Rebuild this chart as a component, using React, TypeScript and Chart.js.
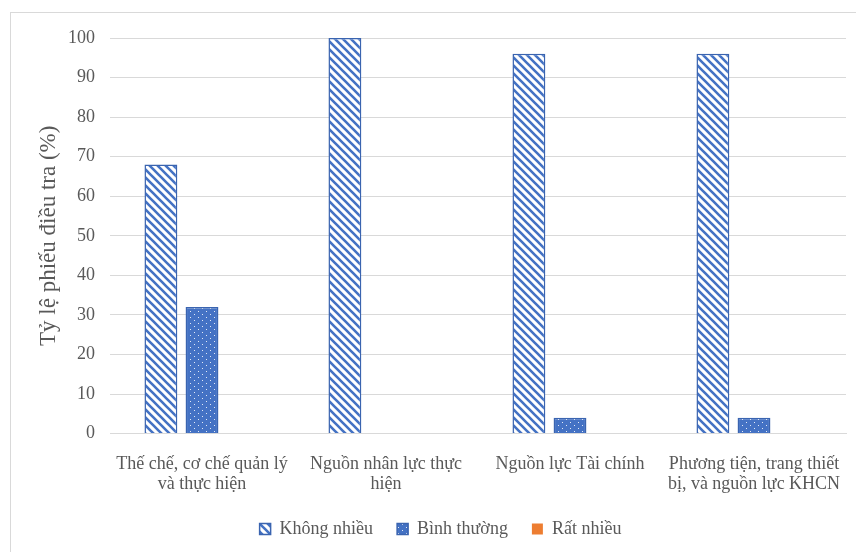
import React, { useEffect, useRef } from "react";
import { Chart, registerables } from "chart.js";

Chart.register(...registerables);

const categories: string[][] = [
  ["Thế chế, cơ chế quản lý", "và thực hiện"],
  ["Nguồn nhân lực thực", "hiện"],
  ["Nguồn lực Tài chính"],
  ["Phương tiện, trang thiết", "bị, và nguồn lực KHCN"],
];
const seriesNames = ["Không nhiều", "Bình thường", "Rất nhiều"];
const khongNhieu = [68, 100, 96, 96];
const binhThuong = [32, 0, 4, 4];
const ratNhieu = [0, 0, 0, 0];
const yTicks = [0, 10, 20, 30, 40, 50, 60, 70, 80, 90, 100];
const yTitle = "Tỷ lệ phiếu điều tra (%)";

const FONT = "'Liberation Serif', 'Times New Roman', serif";
const BLUE = "#4472C4";
const BLUE_DARK = "#3A64B0";

function stripePattern(): CanvasPattern | string {
  const c = document.createElement("canvas");
  c.width = 8;
  c.height = 8;
  const g = c.getContext("2d");
  if (!g) return BLUE;
  g.fillStyle = "#ffffff";
  g.fillRect(0, 0, 8, 8);
  g.strokeStyle = BLUE;
  g.lineWidth = 2.6;
  g.beginPath();
  g.moveTo(-2, -2);
  g.lineTo(10, 10);
  g.moveTo(-6, 2);
  g.lineTo(2, 10);
  g.moveTo(6, -2);
  g.lineTo(14, 6);
  g.stroke();
  return g.createPattern(c, "repeat") || BLUE;
}

function dotPattern(): CanvasPattern | string {
  const c = document.createElement("canvas");
  c.width = 8;
  c.height = 6;
  const g = c.getContext("2d");
  if (!g) return BLUE;
  g.fillStyle = BLUE;
  g.fillRect(0, 0, 8, 6);
  g.fillStyle = "rgba(255,255,255,0.85)";
  g.fillRect(2, 2, 1, 1);
  g.fillRect(6, 5, 1, 1);
  return g.createPattern(c, "repeat") || BLUE;
}

export default function App() {
  const ref = useRef<HTMLCanvasElement | null>(null);

  useEffect(() => {
    if (!ref.current) return;
    const zeroBorder = (w: number) => (ctx: any) =>
      ctx.raw === 0 ? 0 : w;
    const chart = new Chart(ref.current, {
      type: "bar",
      data: {
        labels: categories,
        datasets: [
          {
            label: seriesNames[0],
            data: khongNhieu,
            backgroundColor: stripePattern() as any,
            borderColor: BLUE_DARK,
            borderWidth: zeroBorder(1.5) as any,
          },
          {
            label: seriesNames[1],
            data: binhThuong,
            backgroundColor: dotPattern() as any,
            borderColor: BLUE_DARK,
            borderWidth: zeroBorder(1.5) as any,
          },
          {
            label: seriesNames[2],
            data: ratNhieu,
            backgroundColor: "#ED7D31",
            borderColor: "#ED7D31",
            borderWidth: zeroBorder(1) as any,
          },
        ],
      },
      options: {
        animation: false,
        responsive: false,
        maintainAspectRatio: false,
        datasets: {
          bar: {
            categoryPercentage: 0.67,
            barPercentage: 0.8,
          },
        },
        layout: { padding: { left: 35, right: 10, top: 38, bottom: 4 } },
        plugins: {
          tooltip: { enabled: false },
          legend: {
            position: "bottom",
            labels: {
              font: { family: FONT, size: 18 },
              color: "#595959",
              boxWidth: 11,
              boxHeight: 11,
              padding: 24,
            },
          },
        },
        scales: {
          x: {
            afterFit: (s: any) => {
              s.paddingLeft = 0;
              s.paddingRight = 0;
              s.height -= 19;
            },
            grid: { display: false, drawTicks: false },
            border: { display: true, color: "#d9d9d9", width: 1 },
            ticks: {
              font: { family: FONT, size: 18, lineHeight: 1.15 },
              color: "#595959",
              padding: 20,
              maxRotation: 0,
              autoSkip: false,
            },
          },
          y: {
            min: 0,
            max: 100,
            afterFit: (s: any) => {
              s.width = 75;
            },
            afterBuildTicks: (axis: any) => {
              axis.ticks = yTicks.map((v) => ({ value: v }));
            },
            grid: { color: "#d9d9d9", lineWidth: 1, drawTicks: false },
            border: { display: false },
            ticks: {
              font: { family: FONT, size: 18 },
              color: "#595959",
              padding: 15,
            },
            title: {
              display: true,
              text: yTitle,
              font: { family: FONT, size: 23 },
              color: "#595959",
              padding: { top: 0, bottom: 7 },
            },
          },
        },
      },
    });
    return () => chart.destroy();
  }, []);

  return (
    <div>
      <div
        style={{
          position: "fixed",
          left: 10,
          top: 12,
          width: 900,
          height: 600,
          border: "1px solid #d9d9d9",
          boxSizing: "border-box",
        }}
      />
      <canvas
        ref={ref}
        width={856}
        height={552}
        style={{ position: "fixed", left: 0, top: 0, width: 856, height: 552 }}
      />
    </div>
  );
}
